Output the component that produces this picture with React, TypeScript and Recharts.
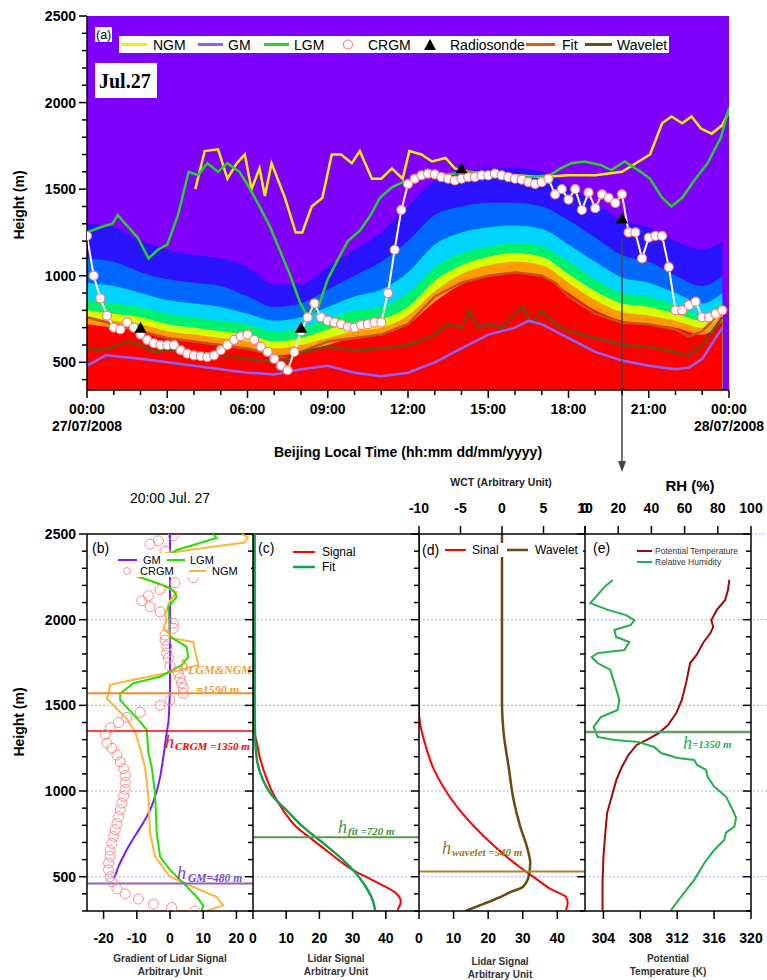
import React from 'react';
import { ComposedChart, Line, Area, XAxis, YAxis, ReferenceLine, ReferenceArea, ReferenceDot, CartesianGrid } from 'recharts';

const FONT = '"Liberation Sans", Arial, Helvetica, sans-serif';
const SERIF = '"Liberation Serif", "Times New Roman", serif';
const AX = { stroke: '#000', strokeWidth: 1.5 };

// ---------------- Panel (a) data ----------------
const hourTicks = [0,1,2,3,4,5,6,7,8,9,10,11,12,13,14,15,16,17,18,19,20,21,22,23,24];
const timeLabels = ['00:00','03:00','06:00','09:00','12:00','15:00','18:00','21:00','00:00'];
const dateLabels = ['27/07/2008','28/07/2008'];
const heightTicksA = [400,500,600,700,800,900,1000,1100,1200,1300,1400,1500,1600,1700,1800,1900,2000,2100,2200,2300,2400,2500];

const bandHours = [0,1,2,3,4,5,6,7,8,9,10,11,12,13,14,15,16,17,18,19,20,21,22,23,23.75];
const redTop =    [720,700,680,640,620,600,580,540,560,600,640,660,720,850,950,1000,1020,1000,900,800,740,720,700,660,740];
const orangeTop = [760,740,720,680,660,640,620,580,600,640,680,700,770,910,1010,1060,1080,1060,960,860,790,770,740,700,780];
const yellowTop = [800,780,760,720,700,680,660,620,640,690,730,750,820,970,1060,1110,1130,1110,1010,910,840,820,780,740,810];
const greenTop =  [860,840,820,780,760,740,720,680,700,750,800,820,900,1050,1130,1170,1190,1170,1080,980,900,880,830,780,850];
const cyanTop =   [960,940,900,860,840,820,780,740,760,820,880,920,1020,1180,1250,1280,1290,1270,1180,1080,990,960,900,840,900];
const lblueTop =  [1100,1080,1020,980,960,940,880,820,840,920,1000,1080,1200,1350,1400,1420,1420,1400,1320,1220,1120,1080,1000,940,1000];
const blueTop =   [1300,1280,1200,1150,1120,1100,1050,950,950,1050,1150,1250,1400,1550,1600,1620,1620,1600,1520,1420,1320,1280,1200,1150,1200];

const ngmHours = [4.05,4.4,4.9,5.25,5.6,5.9,6.15,6.45,6.65,6.9,7.4,7.8,8.05,8.4,8.8,9.15,9.5,9.9,10.2,10.65,11.0,11.4,11.8,12.05,12.5,12.9,13.4,13.75,14.25,15,16,17,18,19,20,21.05,21.5,21.85,22.25,22.6,22.95,23.35,23.75,24];
const ngmValues = [1500,1720,1730,1560,1650,1700,1500,1620,1460,1650,1450,1250,1250,1400,1450,1700,1700,1650,1720,1560,1560,1620,1560,1720,1700,1660,1680,1620,1600,1590,1580,1570,1580,1580,1600,1700,1880,1920,1880,1920,1850,1820,1870,1950];

const lgmHours = [0,0.5,0.95,1.15,1.55,1.9,2.3,2.65,3.0,3.4,3.8,4.15,4.5,4.9,5.25,5.7,6.1,6.45,6.85,7.2,7.6,7.95,8.25,8.65,9.0,9.4,9.75,10.2,10.6,10.95,11.4,11.8,12.25,13.2,14.3,15.45,16.55,17.3,17.7,18.1,18.6,19.2,19.6,20.1,20.7,21.05,21.5,21.85,22.25,22.7,23.2,23.7,24];
const lgmValues = [1250,1280,1300,1350,1280,1220,1100,1150,1180,1350,1600,1580,1650,1600,1650,1600,1500,1400,1280,1150,1000,850,760,820,980,1100,1200,1260,1350,1450,1510,1540,1560,1580,1600,1580,1570,1580,1620,1650,1660,1640,1610,1660,1600,1560,1450,1400,1450,1550,1650,1800,1970];

const gmHours = [0,0.7,2,3,4,5,6,7,8,9,10,11,12,13,14,15,16,16.5,17,18,19,20,21,22,22.5,23,23.75];
const gmValues = [480,540,520,500,480,460,440,430,460,480,440,420,440,500,580,660,700,740,720,640,560,510,480,460,470,520,700];

// CRGM every 15 minutes from 00:00 to 23:45
const crgmValues = [
  1230,1000,870,770, 700,690,730,700, 660,630,610,600, 600,600,570,550,
  540,535,530,540, 570,600,630,650, 660,630,590,560, 520,480,455,560,
  680,760,840,760, 740,730,720,705, 700,715,720,730, 730,900,1150,1380,
  1530,1560,1580,1590, 1585,1570,1560,1550, 1560,1570,1570,1580, 1580,1590,1580,1570,
  1560,1555,1540,1530, 1540,1560,1470,1500, 1440,1500,1380,1480, 1390,1470,1450,1420,
  1470,1250,1250,1100, 1220,1230,1230,1050, 800,800,830,850, 760,760,780,800
];

const radioHours = [2, 8, 14, 20];
const radioValues = [700, 700, 1620, 1330];

const fitHours = [0,0.5,1,2,3,4,5,6,7,7.5,8,9,10,11,12,12.5,13,14,15,16,17,17.5,18,19,20,21,22,22.5,23,23.75];
const fitValues = [760,740,720,680,640,620,600,580,540,520,560,620,640,660,720,800,880,960,1000,1020,1000,960,880,780,730,720,690,650,680,800];

const waveletHours = [0,0.5,1,1.5,2,2.5,3,4,5,6,7,7.5,8,9,10,11,12,13,13.5,14,14.3,14.6,15,15.5,16,16.3,16.6,17,17.5,18,19,20,21,22,22.5,23,23.75];
const waveletValues = [580,570,590,620,600,560,570,560,540,520,500,520,560,590,570,580,600,660,720,700,800,700,720,700,780,820,720,800,720,680,640,600,590,560,540,600,760];

const colorbarTicks = [0, 5, 10, 15, 20];

// ---------------- Bottom panels data (height in m) ----------------
const heightTicksB = [300,400,500,600,700,800,900,1000,1100,1200,1300,1400,1500,1600,1700,1800,1900,2000,2100,2200,2300,2400,2500];
const gridHeights = [500, 1000, 1500, 2000];

// (b) gradients
const gmH = [2500,1600,1500,1400,1340,1200,1080,1000,890,800,755,640,560,510,490];
const gmV = [0,0,-0.2,-0.5,-1,-2,-3,-4,-6,-8.5,-10,-13.5,-15.5,-16.5,-17];
const lgmH = [2500,2477,2407,2330,2250,2185,2155,2133,2075,1900,1843,1783,1735,1667,1630,1570,1530,1415,1357,1222,1140,988,755,617,540,463,383,333,300];
const lgmV = [13,14,2,-4,-9,0,1.5,2,-0.5,0,5,5.5,3.5,-3,-11,-15,-15,-9.5,-7,-6.5,-5.5,-4.5,-4,-3,0,4,8,10,9.5];
const ngmH = [2500,2480,2450,2415,2385,2320,2250,2215,2190,2160,2110,2030,2000,1950,1890,1870,1735,1700,1650,1620,1570,1540,1420,1345,1250,1135,960,755,617,500,440,383,333,300];
const ngmV = [21.6,23.5,22.5,9,-2,-8,-10,-4,-1,2,0,-1.5,-1,-2,1,7,8.5,2,-11,-18,-18.5,-19,-13,-10.5,-9,-7.5,-6.5,-6,-4.5,0,7,14,16,11];
const crgmH = [2490,2460,2440,2400,2245,2215,2175,2140,2110,2075,2045,1980,1950,1910,1880,1845,1805,1775,1730,1690,1660,1630,1600,1570,1530,1500,1460,1430,1400,1370,1330,1280,1250,1210,1170,1130,1090,1050,1010,970,930,890,850,810,775,735,695,655,620,580,540,500,470,430,400,370,340,320,300];
const crgmV = [1,-3.5,-6,-1.5,7,1.5,-3,-6.5,-8.5,-6,-3,1,1,-1.5,-1.5,-1,-1,-0.5,0,2.5,3,3.5,4,4,0,-3,-9,-13,-15.5,-18,-19.5,-19,-17.5,-16,-15,-14,-13.5,-13.5,-13.5,-14,-14.5,-15,-15.5,-16,-16.5,-17,-17.5,-18,-18,-18.5,-18.5,-18,-17.5,-16,-13.5,-9.5,-5,0.5,7.5];

// (c) lidar signal and fit
const sigCH = [2500,1400,1357,1298,1200,1105,988,890,792,715,640,540,470,405,355,305];
const sigCV = [0,0,0.2,1,2,3.5,6,9,13,18,23,30,37,43,44.5,43.5];
const fitCH = [2500,1500,1338,1180,1065,968,890,792,698,600,520,440,365,305];
const fitCV = [0.5,0.5,0.6,1.2,3,6,10,15,21,27,31,34,36,36.8];

// (d) signal and wavelet covariance
const sigDH = [2500,1460,1375,1258,1140,1025,908,792,675,558,493,423,382,347,305];
const sigDV = [0,0,0.5,2,4,7,11,16,22,29,33.5,38.5,42.5,43,42.5];
const wctH = [2500,1517,1338,1140,948,792,675,580,500,440,410,380,340,300];
const wctV = [0,0,0.2,0.8,1.4,2.2,3.0,3.4,3.2,2.5,1.0,-0.3,-2.3,-4.4];

// (e) radiosonde
const ptH = [2232,2173,2115,2057,1998,1957,1922,1864,1794,1747,1640,1532,1455,1385,1338,1298,1269,1210,1140,1065,968,872,755,617,463,305];
const ptV = [317.65,317.5,317.2,316.3,315.7,315.9,315.6,314.8,314.1,313.4,313.0,312.5,311.9,311.0,310,308.7,307.6,306.7,306,305.4,304.9,304.4,304.2,304,303.9,303.9];
const rhH = [2232,2190,2133,2097,2057,2027,1998,1969,1940,1899,1870,1823,1805,1782,1747,1707,1620,1532,1473,1432,1375,1316,1298,1287,1257,1222,1193,1181,1152,1123,1082,1025,968,890,843,792,757,715,657,580,482,383,305];
const rhV = [16.7,11.6,6.6,3.2,13.7,24.7,29.7,27.7,17.7,18.7,26.7,23.7,7.6,4,7.6,15.3,18,20.7,19.7,9.6,5.2,7.6,17.7,31.7,41.7,45.8,55.8,65.8,67.5,72.9,73.9,77.9,84.9,89,91,90,84.9,83.9,77.9,71.9,65.8,57.8,51.8];

// ---------------- tables ----------------
const bandTable = bandHours.map((t, i) => ({ t, red: redTop[i], orange: orangeTop[i], yellow: yellowTop[i], green: greenTop[i], cyan: cyanTop[i], lblue: lblueTop[i], blue: blueTop[i] }));
const series = (xs: number[], vs: number[]) => xs.map((t, i) => ({ t, v: vs[i] }));
const prof = (hs: number[], vs: number[]) => hs.map((h, i) => ({ h, v: vs[i] }));
const crgmTable = crgmValues.map((v, i) => ({ t: i * 0.25, v }));

// ---------------- ticks & labels ----------------
function YTickLeft(props: any) {
  const { x, y, payload, showLabel } = props;
  const v = Number(payload?.value);
  const major = v % 500 === 0;
  const len = major ? 8 : 5;
  return (
    <g>
      <line x1={x} x2={x - len} y1={y} y2={y} stroke="#000" strokeWidth={1.5} />
      {showLabel && major ? (
        <text x={x - 11} y={y + 5} textAnchor="end" fontFamily={FONT} fontWeight="bold" fontSize={14} fill="#000">{v}</text>
      ) : null}
    </g>
  );
}
function YTickRightIn(props: any) {
  const { x, y, payload } = props;
  const v = Number(payload?.value);
  const len = v % 500 === 0 ? 8 : 5;
  return <line x1={x} x2={x - len} y1={y} y2={y} stroke="#000" strokeWidth={1.5} />;
}
function TimeTick(props: any) {
  const { x, y, payload } = props;
  const v = Number(payload?.value);
  const major = v % 3 === 0;
  const date = v === 0 ? dateLabels[0] : v === 24 ? dateLabels[1] : null;
  return (
    <g>
      <line x1={x} x2={x} y1={y} y2={y + (major ? 8 : 5)} stroke="#000" strokeWidth={1.5} />
      {major ? <text x={x} y={y + 24} textAnchor="middle" fontFamily={FONT} fontWeight="bold" fontSize={14} fill="#000">{timeLabels[v / 3]}</text> : null}
      {date ? <text x={x} y={y + 41} textAnchor="middle" fontFamily={FONT} fontWeight="bold" fontSize={14} fill="#000">{date}</text> : null}
    </g>
  );
}
function BottomTick(props: any) {
  const { x, y, payload } = props;
  return (
    <g>
      <line x1={x} x2={x} y1={y} y2={y + 8} stroke="#000" strokeWidth={1.5} />
      <text x={x} y={y + 32} textAnchor="middle" fontFamily={FONT} fontWeight="bold" fontSize={14} fill="#000">{payload?.value}</text>
    </g>
  );
}
function TopTick(props: any) {
  const { x, y, payload } = props;
  return (
    <g>
      <line x1={x} x2={x} y1={y} y2={y - 8} stroke="#000" strokeWidth={1.5} />
      <text x={x} y={y - 21} textAnchor="middle" fontFamily={FONT} fontWeight="bold" fontSize={14} fill="#000">{payload?.value}</text>
    </g>
  );
}
function CbarTick(props: any) {
  const { x, y, payload } = props;
  return (
    <g>
      <line x1={x} x2={x + 6} y1={y} y2={y} stroke="#000" strokeWidth={1} />
      <text x={x + 9} y={y + 5} fontFamily={FONT} fontSize={14} fill="#000">{payload?.value}</text>
    </g>
  );
}
function RotLabel({ px, py, text }: any) {
  return (
    <text x={px} y={py} transform={`rotate(-90 ${px} ${py})`} textAnchor="middle" fontFamily={FONT} fontWeight="bold" fontSize={14} fill="#000">{text}</text>
  );
}
function TitleLines({ px, py, lines, size = 10, gap = 13, color = '#333' }: any) {
  return (
    <g>
      {lines.map((l: string, i: number) => (
        <text key={i} x={px} y={py + i * gap} textAnchor="middle" fontFamily={FONT} fontWeight="bold" fontSize={size} fill={color}>{l}</text>
      ))}
    </g>
  );
}
function RefText({ viewBox, color, parts }: any) {
  const bx = viewBox?.x ?? 0;
  const by = viewBox?.y ?? 0;
  return (
    <g>
      {parts.map((p: any, i: number) => (
        <text key={i} x={bx + p.dx} y={by + p.dy} fill={color} fontFamily={SERIF} fontStyle="italic" fontWeight={p.bold ? 'bold' : 'normal'} fontSize={p.size}>{p.t}</text>
      ))}
    </g>
  );
}
function ArrowHead(props: any) {
  const { cx, cy } = props;
  return <polygon points={`${cx - 4},${cy - 11} ${cx + 4},${cy - 11} ${cx},${cy}`} fill="#444" />;
}
function TriDot(props: any) {
  const { cx, cy, index } = props;
  if (cx == null || cy == null) return <g key={index} />;
  return <polygon key={index} points={`${cx - 6},${cy + 5} ${cx + 6},${cy + 5} ${cx},${cy - 6}`} fill="#000" />;
}

const gridLine = { stroke: '#a8aefc', strokeDasharray: '2 2', strokeWidth: 1 };

// ---------------- Top panel ----------------
function TopChart() {
  return (
    <div style={{ position: 'absolute', left: 0, top: 0 }}>
      <ComposedChart width={767} height={480} data={bandTable} margin={{ top: 16, right: 38, bottom: 30, left: 0 }}>
        <CartesianGrid horizontal={false} vertical={false} fill="#7f00ff" stroke="none" />
        <XAxis type="number" dataKey="t" domain={[0, 24]} ticks={hourTicks} interval={0} height={60} tickSize={0} tickMargin={0} tickLine={false} tick={TimeTick} axisLine={AX} allowDataOverflow
          label={<TitleLines px={408} py={457} lines={['Beijing Local Time (hh:mm dd/mm/yyyy)']} size={14} color="#000" />} />
        <YAxis type="number" domain={[340, 2500]} ticks={heightTicksA} interval={0} width={87} tickSize={0} tickMargin={0} tickLine={false} tick={(p: any) => <YTickLeft {...p} showLabel />} axisLine={AX} allowDataOverflow
          label={<RotLabel px={24} py={205} text="Height (m)" />} />
        <Area dataKey="blue" type="monotone" stroke="none" fill="#2a14ff" fillOpacity={1} isAnimationActive={false} />
        <Area dataKey="lblue" type="monotone" stroke="none" fill="#0068ff" fillOpacity={1} isAnimationActive={false} />
        <Area dataKey="cyan" type="monotone" stroke="none" fill="#00d4ff" fillOpacity={1} isAnimationActive={false} />
        <Area dataKey="green" type="monotone" stroke="none" fill="#00f070" fillOpacity={1} isAnimationActive={false} />
        <Area dataKey="yellow" type="monotone" stroke="none" fill="#d8ff00" fillOpacity={1} isAnimationActive={false} />
        <Area dataKey="orange" type="monotone" stroke="none" fill="#ff9a00" fillOpacity={1} isAnimationActive={false} />
        <Area dataKey="red" type="monotone" stroke="none" fill="#ff0000" fillOpacity={1} isAnimationActive={false} />
        <Line data={series(fitHours, fitValues)} dataKey="v" type="linear" stroke="#c8501a" strokeWidth={2.5} dot={false} isAnimationActive={false} />
        <Line data={series(waveletHours, waveletValues)} dataKey="v" type="linear" stroke="#6b4c14" strokeWidth={2.5} dot={false} isAnimationActive={false} />
        <Line data={series(gmHours, gmValues)} dataKey="v" type="linear" stroke="#9060ff" strokeWidth={2.5} dot={false} isAnimationActive={false} />
        <Line data={series(ngmHours, ngmValues)} dataKey="v" type="linear" stroke="#f8ee00" strokeWidth={2.5} dot={false} isAnimationActive={false} />
        <Line data={series(lgmHours, lgmValues)} dataKey="v" type="linear" stroke="#28d028" strokeWidth={2.5} dot={false} isAnimationActive={false} />
        <Line data={crgmTable} dataKey="v" type="linear" stroke="#ffffff" strokeWidth={2} dot={{ r: 4.5, fill: '#ffffff', stroke: '#ff7f7f', strokeWidth: 1.2 }} isAnimationActive={false} />
        <Line data={series(radioHours, radioValues)} dataKey="v" stroke="none" dot={TriDot} isAnimationActive={false} />
        <ReferenceLine segment={[{ x: 20, y: 1213 }, { x: 20, y: -75 }]} stroke="#444" strokeWidth={1.5} ifOverflow="visible" />
        <ReferenceDot x={20} y={-134} r={4} ifOverflow="visible" shape={ArrowHead} />
      </ComposedChart>
    </div>
  );
}

function ColorBar() {
  return (
    <div style={{ position: 'absolute', left: 678, top: 15 }}>
      <ComposedChart width={62} height={120} data={colorbarTicks.map((v) => ({ v }))} margin={{ top: 12, right: 0, bottom: 13, left: 6 }}>
        <defs>
          <linearGradient id="cbarGrad" x1="0" y1="0" x2="0" y2="1">
            <stop offset="0" stopColor="#ff0000" />
            <stop offset="0.12" stopColor="#ff8000" />
            <stop offset="0.25" stopColor="#ffff00" />
            <stop offset="0.4" stopColor="#80ff00" />
            <stop offset="0.5" stopColor="#00ff00" />
            <stop offset="0.63" stopColor="#00ffff" />
            <stop offset="0.76" stopColor="#0080ff" />
            <stop offset="0.88" stopColor="#0000ff" />
            <stop offset="1" stopColor="#8000ff" />
          </linearGradient>
        </defs>
        <XAxis type="number" domain={[0, 1]} hide />
        <YAxis type="number" orientation="right" domain={[0, 20]} ticks={colorbarTicks} interval={0} width={46} tickSize={0} tickMargin={0} tickLine={false} tick={CbarTick} axisLine={false} />
        <ReferenceArea x1={0} x2={1} y1={0} y2={20} fill="url(#cbarGrad)" fillOpacity={1} stroke="#000" strokeWidth={1} />
      </ComposedChart>
    </div>
  );
}

// ---------------- Bottom panels ----------------
function PanelB() {
  return (
    <div style={{ position: 'absolute', left: 0, top: 460 }}>
      <ComposedChart layout="vertical" width={253} height={520} margin={{ top: 74, right: 0, bottom: 29, left: 0 }}>
        <XAxis type="number" domain={[-25, 25]} ticks={[-20, -10, 0, 10, 20]} interval={0} height={40} tickSize={0} tickMargin={0} tickLine={false} tick={BottomTick} axisLine={AX} allowDataOverflow
          label={<TitleLines px={170} py={502} lines={['Gradient of Lidar Signal', 'Arbitrary Unit']} />} />
        <YAxis type="number" dataKey="h" reversed domain={[300, 2500]} ticks={heightTicksB} interval={0} width={87} tickSize={0} tickMargin={0} tickLine={false} tick={(p: any) => <YTickLeft {...p} showLabel />} axisLine={AX} allowDataOverflow
          label={<RotLabel px={24} py={262} text="Height (m)" />} />
        {gridHeights.map((g) => <ReferenceLine key={g} y={g} {...gridLine} />)}
        <ReferenceLine y={2500} stroke="#000" strokeWidth={1.5} />
        <Line data={prof(gmH, gmV)} dataKey="v" type="monotone" stroke="#7a1cff" strokeWidth={2} dot={false} isAnimationActive={false} />
        <Line data={prof(ngmH, ngmV)} dataKey="v" type="linear" stroke="#ffb43c" strokeWidth={2} dot={false} isAnimationActive={false} />
        <Line data={prof(lgmH, lgmV)} dataKey="v" type="linear" stroke="#22e000" strokeWidth={2} dot={false} isAnimationActive={false} />
        <Line data={prof(crgmH, crgmV)} dataKey="v" type="linear" stroke="none" dot={{ r: 5, fill: 'none', stroke: '#ff8a8a', strokeWidth: 1 }} isAnimationActive={false} />
        <ReferenceLine y={1570} stroke="#f08c28" strokeWidth={2}
          label={<RefText color="#f0a040" parts={[{ t: 'h', dx: 93, dy: -22, size: 17 }, { t: 'LGM&NGM', dx: 101, dy: -19, size: 12, bold: true }, { t: '=1590 m', dx: 109, dy: 1, size: 12, bold: true }]} />} />
        <ReferenceLine y={1350} stroke="#ff0000" strokeWidth={1.5}
          label={<RefText color="#ff0000" parts={[{ t: 'h', dx: 78, dy: 17, size: 18 }, { t: 'CRGM =1350 m', dx: 88, dy: 19, size: 11, bold: true }]} />} />
        <ReferenceLine y={460} stroke="#9060c0" strokeWidth={2}
          label={<RefText color="#7a4cc0" parts={[{ t: 'h', dx: 90, dy: -5, size: 18 }, { t: 'GM=480 m', dx: 101, dy: -2, size: 11.5, bold: true }]} />} />
      </ComposedChart>
    </div>
  );
}

function PanelC() {
  return (
    <div style={{ position: 'absolute', left: 243, top: 460 }}>
      <ComposedChart layout="vertical" width={176} height={520} margin={{ top: 74, right: 0, bottom: 29, left: 0 }}>
        <XAxis type="number" domain={[0, 50]} ticks={[0, 10, 20, 30, 40]} interval={0} height={40} tickSize={0} tickMargin={0} tickLine={false} tick={BottomTick} axisLine={AX} allowDataOverflow
          label={<TitleLines px={93} py={502} lines={['Lidar Signal', 'Arbitrary Unit']} />} />
        <YAxis type="number" dataKey="h" reversed domain={[300, 2500]} ticks={heightTicksB} interval={0} width={10} tickSize={0} tickMargin={0} tickLine={false} tick={(p: any) => <YTickLeft {...p} />} axisLine={AX} allowDataOverflow />
        {gridHeights.map((g) => <ReferenceLine key={g} y={g} {...gridLine} />)}
        <ReferenceLine y={2500} stroke="#000" strokeWidth={1.5} />
        <Line data={prof(sigCH, sigCV)} dataKey="v" type="monotone" stroke="#ff0000" strokeWidth={2} dot={false} isAnimationActive={false} />
        <Line data={prof(fitCH, fitCV)} dataKey="v" type="monotone" stroke="#15a050" strokeWidth={2.5} dot={false} isAnimationActive={false} />
        <ReferenceLine y={730} stroke="#5a9a50" strokeWidth={2}
          label={<RefText color="#4a9040" parts={[{ t: 'h', dx: 85, dy: -4, size: 18 }, { t: 'fit =720 m', dx: 95, dy: -2, size: 11, bold: true }]} />} />
      </ComposedChart>
    </div>
  );
}

function PanelD() {
  return (
    <div style={{ position: 'absolute', left: 409, top: 460 }}>
      <ComposedChart layout="vertical" width={188} height={520} margin={{ top: 44, right: 12, bottom: 29, left: 0 }}>
        <XAxis xAxisId="sig" type="number" domain={[0, 48]} ticks={[0, 10, 20, 30, 40]} interval={0} height={40} tickSize={0} tickMargin={0} tickLine={false} tick={BottomTick} axisLine={AX} allowDataOverflow
          label={<TitleLines px={91} py={505} lines={['Lidar Signal', 'Arbitrary Unit']} />} />
        <XAxis xAxisId="wct" orientation="top" type="number" domain={[-10, 10]} ticks={[-10, -5, 0, 5, 10]} interval={0} height={30} tickSize={0} tickMargin={0} tickLine={false} tick={TopTick} axisLine={AX} allowDataOverflow
          label={<TitleLines px={92} py={26} lines={['WCT (Arbitrary Unit)']} size={10.5} color="#222" />} />
        <YAxis type="number" dataKey="h" reversed domain={[300, 2500]} ticks={heightTicksB} interval={0} width={10} tickSize={0} tickMargin={0} tickLine={false} tick={(p: any) => <YTickLeft {...p} />} axisLine={AX} allowDataOverflow />
        {gridHeights.map((g) => <ReferenceLine key={g} xAxisId="sig" y={g} {...gridLine} />)}
        <Line xAxisId="sig" data={prof(sigDH, sigDV)} dataKey="v" type="monotone" stroke="#ff0000" strokeWidth={2} dot={false} isAnimationActive={false} />
        <Line xAxisId="wct" data={prof(wctH, wctV)} dataKey="v" type="monotone" stroke="#6b4a0f" strokeWidth={2.5} dot={false} isAnimationActive={false} />
        <ReferenceLine xAxisId="sig" y={530} stroke="#a08a30" strokeWidth={2}
          label={<RefText color="#9a7a20" parts={[{ t: 'h', dx: 23, dy: -18, size: 18 }, { t: 'wavelet =540 m', dx: 33, dy: -16, size: 11, bold: true }]} />} />
      </ComposedChart>
    </div>
  );
}

function PanelE() {
  return (
    <div style={{ position: 'absolute', left: 575, top: 460 }}>
      <ComposedChart layout="vertical" width={192} height={520} margin={{ top: 44, right: 0, bottom: 29, left: 0 }}>
        <XAxis xAxisId="pt" type="number" domain={[302, 320]} ticks={[304, 308, 312, 316, 320]} interval={0} height={40} tickSize={0} tickMargin={0} tickLine={false} tick={BottomTick} axisLine={AX} allowDataOverflow
          label={<TitleLines px={93} py={502} lines={['Potential', 'Temperature (K)']} />} />
        <XAxis xAxisId="rh" orientation="top" type="number" domain={[0, 100]} ticks={[0, 20, 40, 60, 80, 100]} interval={0} height={30} tickSize={0} tickMargin={0} tickLine={false} tick={TopTick} axisLine={AX} allowDataOverflow
          label={<TitleLines px={115} py={31} lines={['RH (%)']} size={15} color="#000" />} />
        <YAxis yAxisId="l" type="number" dataKey="h" reversed domain={[300, 2500]} ticks={heightTicksB} interval={0} width={10} tickSize={0} tickMargin={0} tickLine={false} tick={(p: any) => <YTickLeft {...p} />} axisLine={AX} allowDataOverflow />
        <YAxis yAxisId="r" orientation="right" type="number" dataKey="h" reversed domain={[300, 2500]} ticks={heightTicksB} interval={0} width={16} tickSize={0} tickMargin={0} tickLine={false} tick={YTickRightIn} axisLine={AX} allowDataOverflow />
        {gridHeights.map((g) => (
          <ReferenceLine key={g} xAxisId="pt" yAxisId="l" segment={[{ x: 302, y: g }, { x: 321.8, y: g }]} ifOverflow="visible" {...gridLine} />
        ))}
        <ReferenceLine xAxisId="pt" yAxisId="l" segment={[{ x: 320, y: 2500 }, { x: 321.8, y: 2500 }]} ifOverflow="visible" {...gridLine} />
        <Line xAxisId="pt" yAxisId="l" data={prof(ptH, ptV)} dataKey="v" type="linear" stroke="#a00a0a" strokeWidth={2} dot={false} isAnimationActive={false} />
        <Line xAxisId="rh" yAxisId="l" data={prof(rhH, rhV)} dataKey="v" type="linear" stroke="#1fb04c" strokeWidth={2} dot={false} isAnimationActive={false} />
        <ReferenceLine xAxisId="pt" yAxisId="l" y={1345} stroke="#60a060" strokeWidth={2.5}
          label={<RefText color="#20b050" parts={[{ t: 'h', dx: 98, dy: 17, size: 18 }, { t: '=1350 m', dx: 107, dy: 16, size: 11, bold: true }]} />} />
      </ComposedChart>
    </div>
  );
}

// ---------------- overlays (legends, panel labels) ----------------
function TopLegend() {
  const t = { fontFamily: FONT, fontSize: 14, fill: '#000' } as any;
  return (
    <svg style={{ position: 'absolute', left: 119, top: 36 }} width={550} height={17}>
      <rect x={0} y={0} width={550} height={17} fill="#fff" />
      <line x1={2} x2={28} y1={8.5} y2={8.5} stroke="#f8ee00" strokeWidth={3} />
      <text x={34} y={13.5} {...t}>NGM</text>
      <line x1={79} x2={104} y1={8.5} y2={8.5} stroke="#9060ff" strokeWidth={3} />
      <text x={109} y={13.5} {...t}>GM</text>
      <line x1={145} x2={170} y1={8.5} y2={8.5} stroke="#28d028" strokeWidth={3} />
      <text x={175} y={13.5} {...t}>LGM</text>
      <circle cx={229} cy={8.5} r={4.5} fill="none" stroke="#ff7f7f" strokeWidth={1.2} />
      <text x={249} y={13.5} {...t}>CRGM</text>
      <polygon points="305,14 317,14 311,3" fill="#000" />
      <text x={331} y={13.5} {...t}>Radiosonde</text>
      <line x1={407} x2={436} y1={8.5} y2={8.5} stroke="#e0581e" strokeWidth={3} />
      <text x={443} y={13.5} {...t}>Fit</text>
      <line x1={466} x2={493} y1={8.5} y2={8.5} stroke="#6b4c14" strokeWidth={3} />
      <text x={498} y={13.5} {...t}>Wavelet</text>
    </svg>
  );
}

function Overlays() {
  const s11 = { fontFamily: FONT, fontSize: 11, fill: '#000' } as any;
  const s12 = { fontFamily: FONT, fontSize: 12, fill: '#000' } as any;
  return (
    <svg style={{ position: 'absolute', left: 0, top: 0 }} width={767} height={980} pointerEvents="none">
      <rect x={95} y={27} width={17} height={15} fill="#fff" />
      <text x={96} y={39} fontFamily={FONT} fontSize={12.5} fill="#000">(a)</text>
      <rect x={95} y={63} width={62} height={35} fill="#fff" />
      <text x={99} y={88} fontFamily={SERIF} fontWeight="bold" fontSize={20} fill="#000">Jul.27</text>
      <text x={170} y={503} textAnchor="middle" fontFamily={FONT} fontSize={14} fill="#000">20:00 Jul. 27</text>
      <text x={92} y={553} fontFamily={FONT} fontSize={14} fill="#000">(b)</text>
      <text x={258} y={553} fontFamily={FONT} fontSize={14} fill="#000">(c)</text>
      <rect x={421} y={543} width={162} height={14} fill="#fff" />
      <text x={422} y={555} fontFamily={FONT} fontSize={14} fill="#000">(d)</text>
      <text x={593} y={553} fontFamily={FONT} fontSize={14} fill="#000">(e)</text>
      <rect x={112} y={553} width={139} height={24} fill="#fff" />
      <line x1={118} x2={137} y1={560} y2={560} stroke="#7a1cff" strokeWidth={2} />
      <text x={143} y={564} {...s11}>GM</text>
      <line x1={167} x2={185} y1={560} y2={560} stroke="#22e000" strokeWidth={2} />
      <text x={190} y={564} {...s11}>LGM</text>
      <circle cx={127} cy={571} r={3.5} fill="none" stroke="#ff8a8a" strokeWidth={1} />
      <text x={140} y={575} {...s11}>CRGM</text>
      <line x1={189} x2={206} y1={571} y2={571} stroke="#ffb43c" strokeWidth={2} />
      <text x={212} y={575} {...s11}>NGM</text>
      <line x1={293} x2={315} y1={552} y2={552} stroke="#ff0000" strokeWidth={2} />
      <text x={322} y={556} {...s12}>Signal</text>
      <line x1={293} x2={315} y1={567} y2={567} stroke="#15a050" strokeWidth={2.5} />
      <text x={322} y={571} {...s12}>Fit</text>
      <line x1={445} x2={466} y1={550} y2={550} stroke="#ff0000" strokeWidth={2} />
      <text x={472} y={554} {...s12}>Sinal</text>
      <line x1={507} x2={528} y1={550} y2={550} stroke="#6b4a0f" strokeWidth={2.5} />
      <text x={535} y={554} {...s12}>Wavelet</text>
      <line x1={637} x2={652} y1={551} y2={551} stroke="#a00a0a" strokeWidth={2} />
      <text x={655} y={554} fontFamily={FONT} fontSize={8.5} fill="#333">Potential Temperature</text>
      <line x1={637} x2={652} y1={562} y2={562} stroke="#1fb04c" strokeWidth={2} />
      <text x={655} y={565} fontFamily={FONT} fontSize={8.5} fill="#333">Relative Humidity</text>
    </svg>
  );
}

export default function App() {
  return (
    <div style={{ position: 'absolute', left: 0, top: 0, width: 767, height: 980, background: '#fff', overflow: 'hidden', fontFamily: FONT }}>
      <TopChart />
      <ColorBar />
      <PanelB />
      <PanelC />
      <PanelD />
      <PanelE />
      <TopLegend />
      <Overlays />
    </div>
  );
}
